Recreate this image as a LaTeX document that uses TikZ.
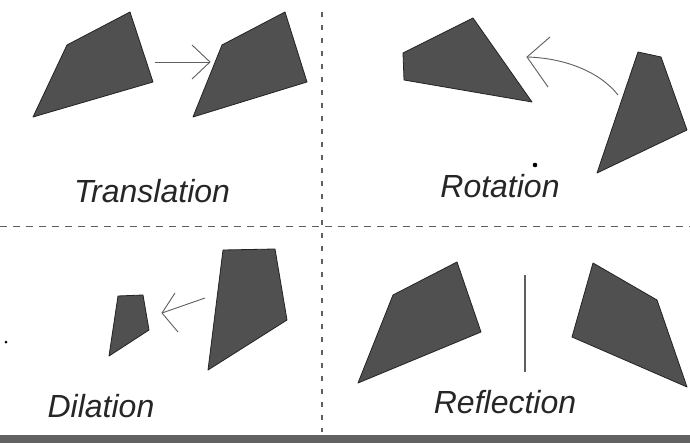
\documentclass[tikz,border=0pt]{standalone}
\usepackage{fontspec}
\setmainfont{Liberation Sans}
\definecolor{shapefill}{RGB}{80,80,80}
\definecolor{shapeedge}{RGB}{35,35,35}
\definecolor{linegray}{RGB}{95,95,95}
\definecolor{bandgray}{RGB}{98,98,98}
\begin{document}
\begin{tikzpicture}[x=1pt,y=-1pt,
  quad/.style={fill=shapefill,draw=shapeedge,line width=0.8pt,line join=round},
  hdash/.style={draw=linegray,line width=1pt,dash pattern=on 7pt off 6pt},
  vdash/.style={draw=linegray,line width=1.1pt,dash pattern=on 5pt off 8pt},
  arrowline/.style={draw=linegray,line width=0.9pt,line join=miter},
  label/.style={anchor=base,inner sep=0pt,font=\fontsize{32}{38}\selectfont\itshape,text=black!85}]
\useasboundingbox (0,0) rectangle (690,443);
\fill[white] (0,0) rectangle (690,443);
% dividers
\coordinate (hl) at (0,227); \coordinate (hr) at (690,227);
\coordinate (vt) at (322,12); \coordinate (vb) at (322,432);
\draw[hdash] (hl) -- (hr);
\draw[vdash] (vt) -- (vb);
% bottom band
\fill[bandgray] (0,435) rectangle (690,443);
% ---------- Translation ----------
\draw[quad] (67,45) -- (130,12) -- (153,82) -- (33,117) -- cycle;
\draw[quad] (222,45) -- (285,12) -- (307,82) -- (193,117) -- cycle;
\coordinate (ta) at (155,62); \coordinate (tt) at (210,62);
\coordinate (ta1) at (192,45); \coordinate (ta2) at (192,79);
\draw[arrowline] (ta) -- (tt);
\draw[arrowline] (ta1) -- (tt) -- (ta2);
\node[label] (ttext) at (152,203) {Translation};
% ---------- Rotation ----------
\draw[quad] (473,18) -- (403,53) -- (404,80) -- (532,102) -- cycle;
\draw[quad] (638,52) -- (661,57) -- (687,130) -- (597,173) -- cycle;
\coordinate (ra) at (618,95); \coordinate (rt) at (527,57);
\coordinate (ra1) at (550,37); \coordinate (ra2) at (548,87);
\draw[arrowline] (ra) .. controls (600,72) and (565,58) .. (rt);
\draw[arrowline] (ra1) -- (rt) -- (ra2);
\fill[black] (535,165) circle (2.3);
\node[label] (rtext) at (500,198) {Rotation};
% ---------- Dilation ----------
\draw[quad] (223,250) -- (275,249) -- (287,320) -- (208,370) -- cycle;
\draw[quad] (118,296) -- (143,295) -- (149,330) -- (109,356) -- cycle;
\coordinate (da) at (205,298); \coordinate (dt) at (162,313);
\coordinate (da1) at (175,293); \coordinate (da2) at (178,332);
\draw[arrowline] (da) -- (dt);
\draw[arrowline] (da1) -- (dt) -- (da2);
\fill[black] (6,342) circle (1.5);
\node[label] (dtext) at (101,417) {Dilation};
% ---------- Reflection ----------
\draw[quad] (457,262) -- (393,295) -- (358,383) -- (481,332) -- cycle;
\draw[quad] (593,263) -- (657,300) -- (687,387) -- (572,337) -- cycle;
\coordinate (mt) at (525,275); \coordinate (mb) at (525,372);
\draw[draw=linegray,line width=1.3pt] (mt) -- (mb);
\node[label] (ftext) at (505,413) {Reflection};
\end{tikzpicture}
\end{document}
